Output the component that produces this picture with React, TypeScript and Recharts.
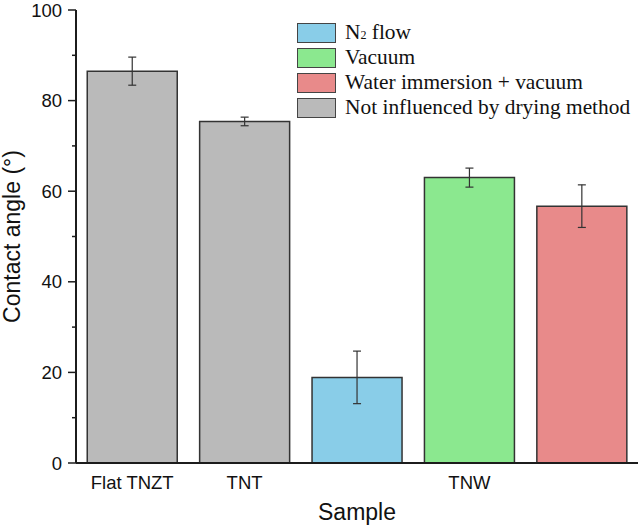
import { Bar, BarChart, Cell, ErrorBar, Legend, XAxis, YAxis } from 'recharts'

const categories = ['Flat TNZT', 'TNT', 'TNW N2 flow', 'TNW vacuum', 'TNW water']
const tickLabels = ['Flat TNZT', 'TNT', '', 'TNW', '']
const values = [86.5, 75.4, 18.9, 63.0, 56.7]
const errors = [3.1, 0.95, 5.8, 2.1, 4.7]
const methods = ['none', 'none', 'n2', 'vacuum', 'water']
const yTicks = [0, 10, 20, 30, 40, 50, 60, 70, 80, 90, 100]

const legendKeys = ['n2', 'vacuum', 'water', 'none']
const legendColors: Record<string, string> = {
  n2: '#89cde8',
  vacuum: '#8be88f',
  water: '#e88a8a',
  none: '#bababa',
}

const data = categories.map((name, i) => ({ name, value: values[i], err: errors[i], method: methods[i] }))

const sans = '"Liberation Sans", Arial, sans-serif'
const serif = '"Liberation Serif", "Times New Roman", serif'
const ink = '#1c1c1c'

function YTick({ x, y, payload }: any) {
  const major = payload.value % 20 === 0
  return (
    <g>
      <line x1={x - (major ? 8 : 4)} x2={x} y1={y} y2={y} stroke={ink} strokeWidth={1.5} />
      {major && (
        <text x={x - 14} y={y} dy={6.5} textAnchor="end" fontSize={18.5} fontFamily={sans} fill="#111">
          {payload.value}
        </text>
      )}
    </g>
  )
}

function XTick({ x, y, index }: any) {
  return (
    <text x={x} y={y + 25.5} textAnchor="middle" fontSize={18.5} fontFamily={sans} fill="#111">
      {tickLabels[index]}
    </text>
  )
}

function LegendLabel({ method }: { method: string }) {
  if (method === 'n2') {
    return (
      <span>
        N<span style={{ fontSize: 12 }}>2</span> flow
      </span>
    )
  }
  if (method === 'vacuum') return <span>Vacuum</span>
  if (method === 'water') return <span>Water immersion + vacuum</span>
  return <span>Not influenced by drying method</span>
}

function DryingLegend() {
  return (
    <div style={{ fontFamily: serif, fontSize: 21.4, color: '#111' }}>
      {legendKeys.map((key) => (
        <div key={key} style={{ display: 'flex', alignItems: 'center', height: 25, whiteSpace: 'nowrap' }}>
          <div
            style={{
              width: 37,
              height: 18,
              background: legendColors[key],
              border: '1.5px solid #444',
              marginRight: 9,
            }}
          />
          <LegendLabel method={key} />
        </div>
      ))}
    </div>
  )
}

export default function App() {
  return (
    <div style={{ position: 'absolute', left: 0, top: 0, width: 641, height: 530, background: '#fff' }}>
      <BarChart width={641} height={530} data={data} margin={{ top: 10, right: 3, bottom: 0, left: 0 }} barCategoryGap="10%">
        <XAxis
          dataKey="name"
          height={67}
          axisLine={{ stroke: ink, strokeWidth: 2 }}
          tickLine={false}
          tickSize={0}
          tickMargin={0}
          tick={<XTick />}
          interval={0}
          label={{ value: 'Sample', position: 'insideBottom', offset: 10, fontSize: 23, fontFamily: sans, fill: '#111' }}
        />
        <XAxis xAxisId="top" dataKey="name" orientation="top" height={0} tick={false} tickLine={false} axisLine={{ stroke: ink, strokeWidth: 2 }} />
        <YAxis
          width={76}
          domain={[0, 100]}
          ticks={yTicks}
          interval={0}
          axisLine={{ stroke: ink, strokeWidth: 2 }}
          tickLine={false}
          tickSize={0}
          tickMargin={0}
          tick={<YTick />}
          label={{
            value: 'Contact angle (°)',
            angle: -90,
            position: 'insideLeft',
            offset: 12,
            fontSize: 23,
            fontFamily: sans,
            fill: '#111',
            style: { textAnchor: 'middle' },
          }}
        />
        <YAxis yAxisId="right" orientation="right" width={0} tick={false} tickLine={false} axisLine={{ stroke: ink, strokeWidth: 2 }} />
        <Legend
          verticalAlign="middle"
          align="center"
          content={<DryingLegend />}
          wrapperStyle={{ left: 297, top: 20, width: 'auto', height: 'auto' }}
        />
        <Bar dataKey="value" stroke="#333" strokeWidth={1.5} isAnimationActive={false}>
          {data.map((d) => (
            <Cell key={d.name} fill={legendColors[d.method]} />
          ))}
          <ErrorBar dataKey="err" width={4} stroke="#333" strokeWidth={1.2} isAnimationActive={false} />
        </Bar>
      </BarChart>
    </div>
  )
}
